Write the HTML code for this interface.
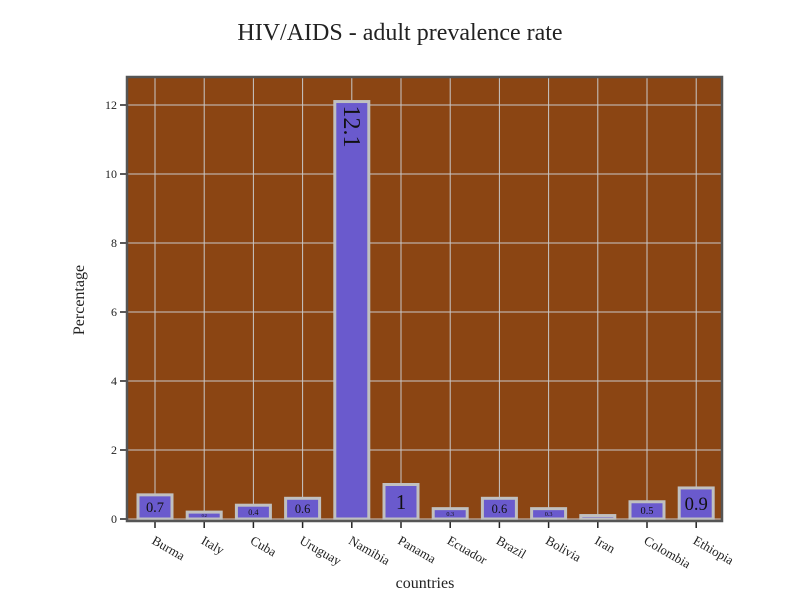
<!DOCTYPE html>
<html><head><meta charset="utf-8"><style>
body{margin:0;background:#fff;}
svg text{font-family:"Liberation Serif",serif;}
</style></head><body>
<svg id="chart" width="800" height="600">
<text x="400" y="40" text-anchor="middle" font-size="24" fill="#222">HIV/AIDS - adult prevalence rate</text>
<rect x="127" y="77" width="595" height="444" fill="#8B4513"/>
<g id="grid"></g><g id="bars"></g><g id="axes"></g>
<rect x="127" y="77" width="595" height="444" fill="none" stroke="#555" stroke-width="2.5"/>
<text x="425" y="588" text-anchor="middle" font-size="16" fill="#222">countries</text>
<text transform="translate(84,300) rotate(-90)" text-anchor="middle" font-size="16" fill="#222">Percentage</text>
</svg>
<script>
const categories=["Burma","Italy","Cuba","Uruguay","Namibia","Panama","Ecuador","Brazil","Bolivia","Iran","Colombia","Ethiopia"];
const values=[0.7,0.2,0.4,0.6,12.1,1,0.3,0.6,0.3,0.1,0.5,0.9];
const yTicks=[0,2,4,6,8,10,12];
const NS="http://www.w3.org/2000/svg";
const L=127,R=722,step=49.2;
const xc=i=>155+step*i;
const y=v=>519-v*34.5;
function mk(t,a,p){const e=document.createElementNS(NS,t);for(const k in a)e.setAttribute(k,a[k]);p.appendChild(e);return e;}
const grid=document.getElementById('grid'),bars=document.getElementById('bars'),axes=document.getElementById('axes');
yTicks.forEach(t=>{
 const l=mk('line',{x1:L,x2:R,y1:y(t),y2:y(t),stroke:'#c8c8c8','stroke-width':1},grid);
 
 
 const tk=mk('line',{x1:120,x2:126,y1:y(t),y2:y(t),stroke:'#222','stroke-width':1.5},axes);
 
 
 const tx=mk('text',{x:117,y:y(t)+4,'text-anchor':'end','font-size':12,fill:'#222'},axes);
 tx.textContent=t;
 
 
});
categories.forEach((c,i)=>{
 const x=xc(i);
 const g=mk('line',{x1:x,x2:x,y1:77,y2:521,stroke:'#c8c8c8','stroke-width':1},grid);
 
 
 const v=values[i],w=34,top=y(v),h=519-top;
 const b=mk('rect',{x:x-w/2,y:top,width:w,height:Math.max(h,1),fill:'#6A5ACD',stroke:'#c0c0c0','stroke-width':3},bars);
 
 
 if(v>=0.2){
  let fs=Math.min(26,Math.max(3,h*0.6));
  const t=mk('text',{'font-size':fs,fill:'#111','text-anchor':'middle'},bars);
  if(v>5){t.setAttribute('transform',`translate(${x-8},${top+4}) rotate(90)`);t.setAttribute('text-anchor','start');t.setAttribute('font-size',24);}
  else{t.setAttribute('x',x);t.setAttribute('y',top+h/2+fs*0.35);}
  t.textContent=v;
  
  
 }
 const tk=mk('line',{x1:x,x2:x,y1:522,y2:528,stroke:'#222','stroke-width':1.5},axes);
 
 
 const tx=mk('text',{transform:`translate(${x-4},${543}) rotate(30)`,'font-size':13,fill:'#222'},axes);
 tx.textContent=c;
 
 
});
</script>
</body></html>
